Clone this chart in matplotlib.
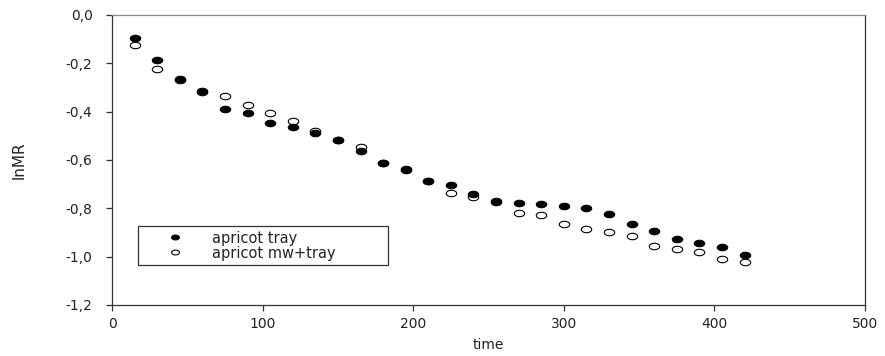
import matplotlib

matplotlib.use("Agg")

import matplotlib.pyplot as plt
import numpy as np
from matplotlib.path import Path
from matplotlib.ticker import FuncFormatter, MultipleLocator

plt.rcParams["font.family"] = ["DejaVu Sans"]

time = [15, 30, 45, 60, 75, 90, 105, 120, 135, 150, 165, 180, 195, 210,
        225, 240, 255, 270, 285, 300, 315, 330, 345, 360, 375, 390, 405, 420]
tray = [-0.094, -0.185, -0.263, -0.315, -0.389, -0.407, -0.446, -0.462,
        -0.490, -0.518, -0.561, -0.611, -0.641, -0.687, -0.703, -0.742,
        -0.772, -0.777, -0.783, -0.789, -0.799, -0.825, -0.864, -0.892,
        -0.928, -0.943, -0.959, -0.992]
mw_tray = [-0.124, -0.223, -0.270, -0.320, -0.335, -0.371, -0.407, -0.440,
           -0.479, -0.517, -0.545, -0.611, -0.639, -0.686, -0.735, -0.754,
           -0.771, -0.818, -0.829, -0.866, -0.884, -0.898, -0.913, -0.956,
           -0.968, -0.979, -1.008, -1.022]

AXIS = "#333333"
TEXT = "#222222"

# squashed circle, the markers in the original are wider than tall
theta = np.linspace(0, 2 * np.pi, 41)
ellipse = Path(np.column_stack([np.cos(theta), 0.62 * np.sin(theta)]), closed=True)

fig = plt.figure(figsize=(8.85, 3.56), dpi=100, facecolor="white")
ax = fig.add_axes([0.1266, 0.1433, 0.8508, 0.8146])

ax.plot(time, tray, linestyle="none", marker=ellipse, markersize=7.5,
        markerfacecolor="black", markeredgecolor="black", markeredgewidth=0.8,
        label="apricot tray")
ax.plot(time, mw_tray, linestyle="none", marker=ellipse, markersize=7.5,
        markerfacecolor="none", markeredgecolor="black", markeredgewidth=0.8,
        label="apricot mw+tray")

ax.set_xlim(0, 500)
ax.set_ylim(-1.2, 0.0)
ax.xaxis.set_major_locator(MultipleLocator(100))
ax.yaxis.set_major_locator(MultipleLocator(0.2))
ax.yaxis.set_major_formatter(FuncFormatter(lambda v, p: f"{v:.1f}".replace(".", ",").replace("−", "-")))

for spine in ax.spines.values():
    spine.set_color(AXIS)
    spine.set_linewidth(0.9)
ax.spines["top"].set_color("#888888")

ax.tick_params(direction="out", length=4, width=0.9, color=AXIS,
               labelsize=10, labelcolor=TEXT)
ax.tick_params(axis="y", pad=10)
ax.tick_params(axis="x", pad=5)
ax.set_xlabel("time", fontsize=10, color=TEXT, labelpad=5)
ax.set_ylabel("lnMR", fontsize=11, color=TEXT, labelpad=28)

leg = ax.legend(loc="lower left", bbox_to_anchor=(0.034, 0.138, 0.332, 0.15),
                mode="expand", fancybox=False, frameon=True, fontsize=10.5,
                borderpad=0.3, handlelength=4.5, handletextpad=0.3,
                labelspacing=0.0, borderaxespad=0, markerscale=0.75)
leg.get_frame().set_edgecolor("black")
leg.get_frame().set_linewidth(0.9)
for t in leg.get_texts():
    t.set_color(TEXT)

fig.savefig("out.png", dpi=100)
